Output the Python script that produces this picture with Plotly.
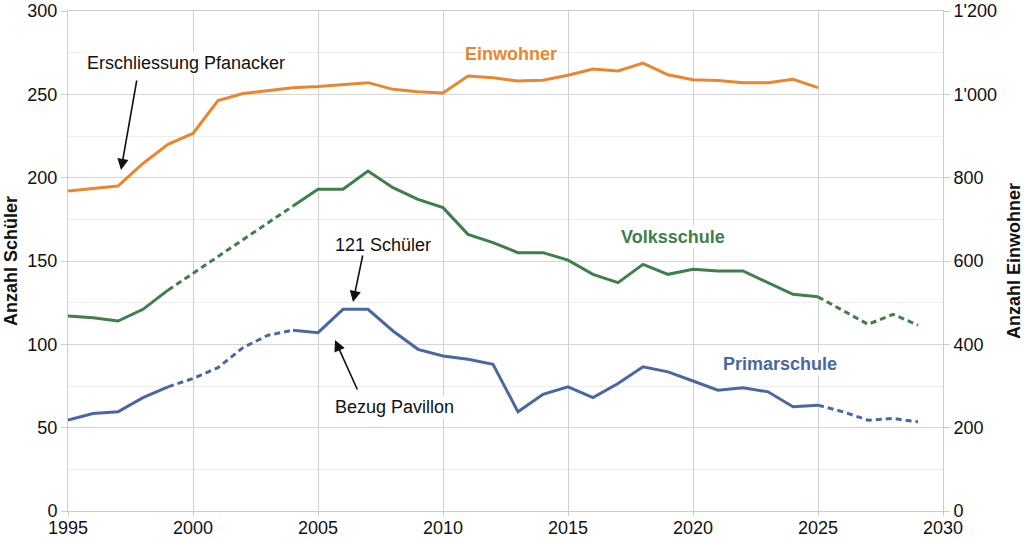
import plotly.graph_objects as go

years = list(range(1995, 2030))

einwohner = [768, 774, 780, 834, 880, 906, 985, 1002, 1009, 1016,
             1019, 1024, 1028, 1012, 1006, 1003, 1044, 1040, 1032, 1034,
             1046, 1061, 1056, 1075, 1047, 1035, 1033, 1028, 1028, 1036,
             1016, None, None, None, None]

volksschule = [117, 116, 114, 121, 132.5, None, None, None, None, 183,
               193, 193, 204, 194, 187, 182, 166, 161, 155, 155,
               150.5, 142, 137, 148, 142, 145, 144, 144, 137, 130,
               128.5, 120.5, 112, 118, 111.5]

primarschule = [54.5, 58.5, 59.5, 68, 74.5, 79.5, 86, 98, 105.5, 108.5,
                107, 121, 121, 108, 97, 93, 91, 88, 59.5, 70,
                74.5, 68, 76.5, 86.5, 83.5, 78, 72.5, 74, 71.5, 62.5,
                63.5, 59.5, 54.5, 55.5, 53.5]

# school segments: (first year, last year, dashed)
school_segments = [(1995, 1999, False), (1999, 2004, True), (2004, 2025, False), (2025, 2029, True)]
pop_segments = [(1995, 2025, False)]

ORANGE = "#E8872F"
GREEN = "#3E7F4B"
BLUE = "#4A67A1"
FONT = "Liberation Sans, Arial, sans-serif"

fig = go.Figure()


def add_series(values, color, segments, yaxis="y"):
    for a, b, dashed in segments:
        xs = [y for y, v in zip(years, values) if a <= y <= b and v is not None]
        vs = [v for y, v in zip(years, values) if a <= y <= b and v is not None]
        if len(xs) < 2:
            continue
        fig.add_trace(go.Scatter(
            x=xs, y=vs, mode="lines", yaxis=yaxis, showlegend=False,
            hoverinfo="skip",
            line=dict(color=color, width=3, dash="6px,4px" if dashed else "solid"),
        ))


add_series(einwohner, ORANGE, pop_segments, "y2")
add_series(volksschule, GREEN, school_segments)
add_series(primarschule, BLUE, school_segments)

fig.update_layout(
    width=1024, height=538,
    margin=dict(l=68, r=81, t=11, b=27),
    paper_bgcolor="white", plot_bgcolor="white",
    separators=".'",
    font=dict(family=FONT, size=18, color="#111111"),
    xaxis=dict(range=[1995, 2030], dtick=5, tick0=1995, showgrid=True,
               gridcolor="#d0d0d0", gridwidth=1, zeroline=False,
               showline=True, mirror=True, linecolor="#cccccc", linewidth=1,
               ticks="outside", ticklen=4, tickcolor="#cccccc",
               tickfont=dict(size=18), automargin=False, ticklabelstandoff=-4),
    yaxis=dict(range=[0, 300], dtick=50, showgrid=True, gridcolor="#d6d6d6",
               gridwidth=1, zeroline=False, showline=True, mirror=True,
               linecolor="#cccccc", ticks="outside", ticklen=6,
               tickcolor="#cccccc", tickfont=dict(size=18), automargin=False,
               ticklabeloverflow="allow",
               minor=dict(dtick=25, showgrid=True, gridcolor="#eeeeee", gridwidth=1),
               title=dict(text="<b>Anzahl Schüler</b>", font=dict(size=18), standoff=5)),
    yaxis2=dict(range=[0, 1200], dtick=200, overlaying="y", side="right",
                showgrid=False, zeroline=False, tickformat=",d",
                ticks="outside", ticklen=6, tickcolor="#cccccc",
                tickfont=dict(size=18), automargin=False,
                ticklabeloverflow="allow",
                title=dict(text="<b>Anzahl Einwohner</b>", font=dict(size=18), standoff=11)),
)


def px2data(px, py):
    return 1995 + (px - 68) / 25.0, (511 - py) / (500.0 / 300.0)


def text_ann(label, px, py, color="#111111", bold=False):
    x, y = px2data(px, py)
    fig.add_annotation(x=x, y=y, xref="x", yref="y", showarrow=False,
                       text=f"<b>{label}</b>" if bold else label,
                       font=dict(family=FONT, size=18, color=color),
                       bgcolor="white", borderpad=1)


def arrow_ann(hx, hy, tx, ty):
    x, y = px2data(hx, hy)
    fig.add_annotation(x=x, y=y, xref="x", yref="y", text="", showarrow=True,
                       ax=tx - hx, ay=ty - hy, arrowhead=2, arrowsize=1.4,
                       arrowwidth=1.6, arrowcolor="#111111", standoff=0)


text_ann("Erschliessung Pfanacker", 186, 63)
arrow_ann(121, 170, 137, 79)
text_ann("Einwohner", 511, 53.5, ORANGE, True)
text_ann("121 Schüler", 383, 245)
arrow_ann(353, 302, 363, 254)
text_ann("Bezug Pavillon", 394, 407)
arrow_ann(335, 340, 358, 391)
text_ann("Volksschule", 672.5, 237, GREEN, True)
text_ann("Primarschule", 780, 364, BLUE, True)

fig.write_html("out.html", config={"displayModeBar": False},
               post_script="document.body.style.margin='0px';")
